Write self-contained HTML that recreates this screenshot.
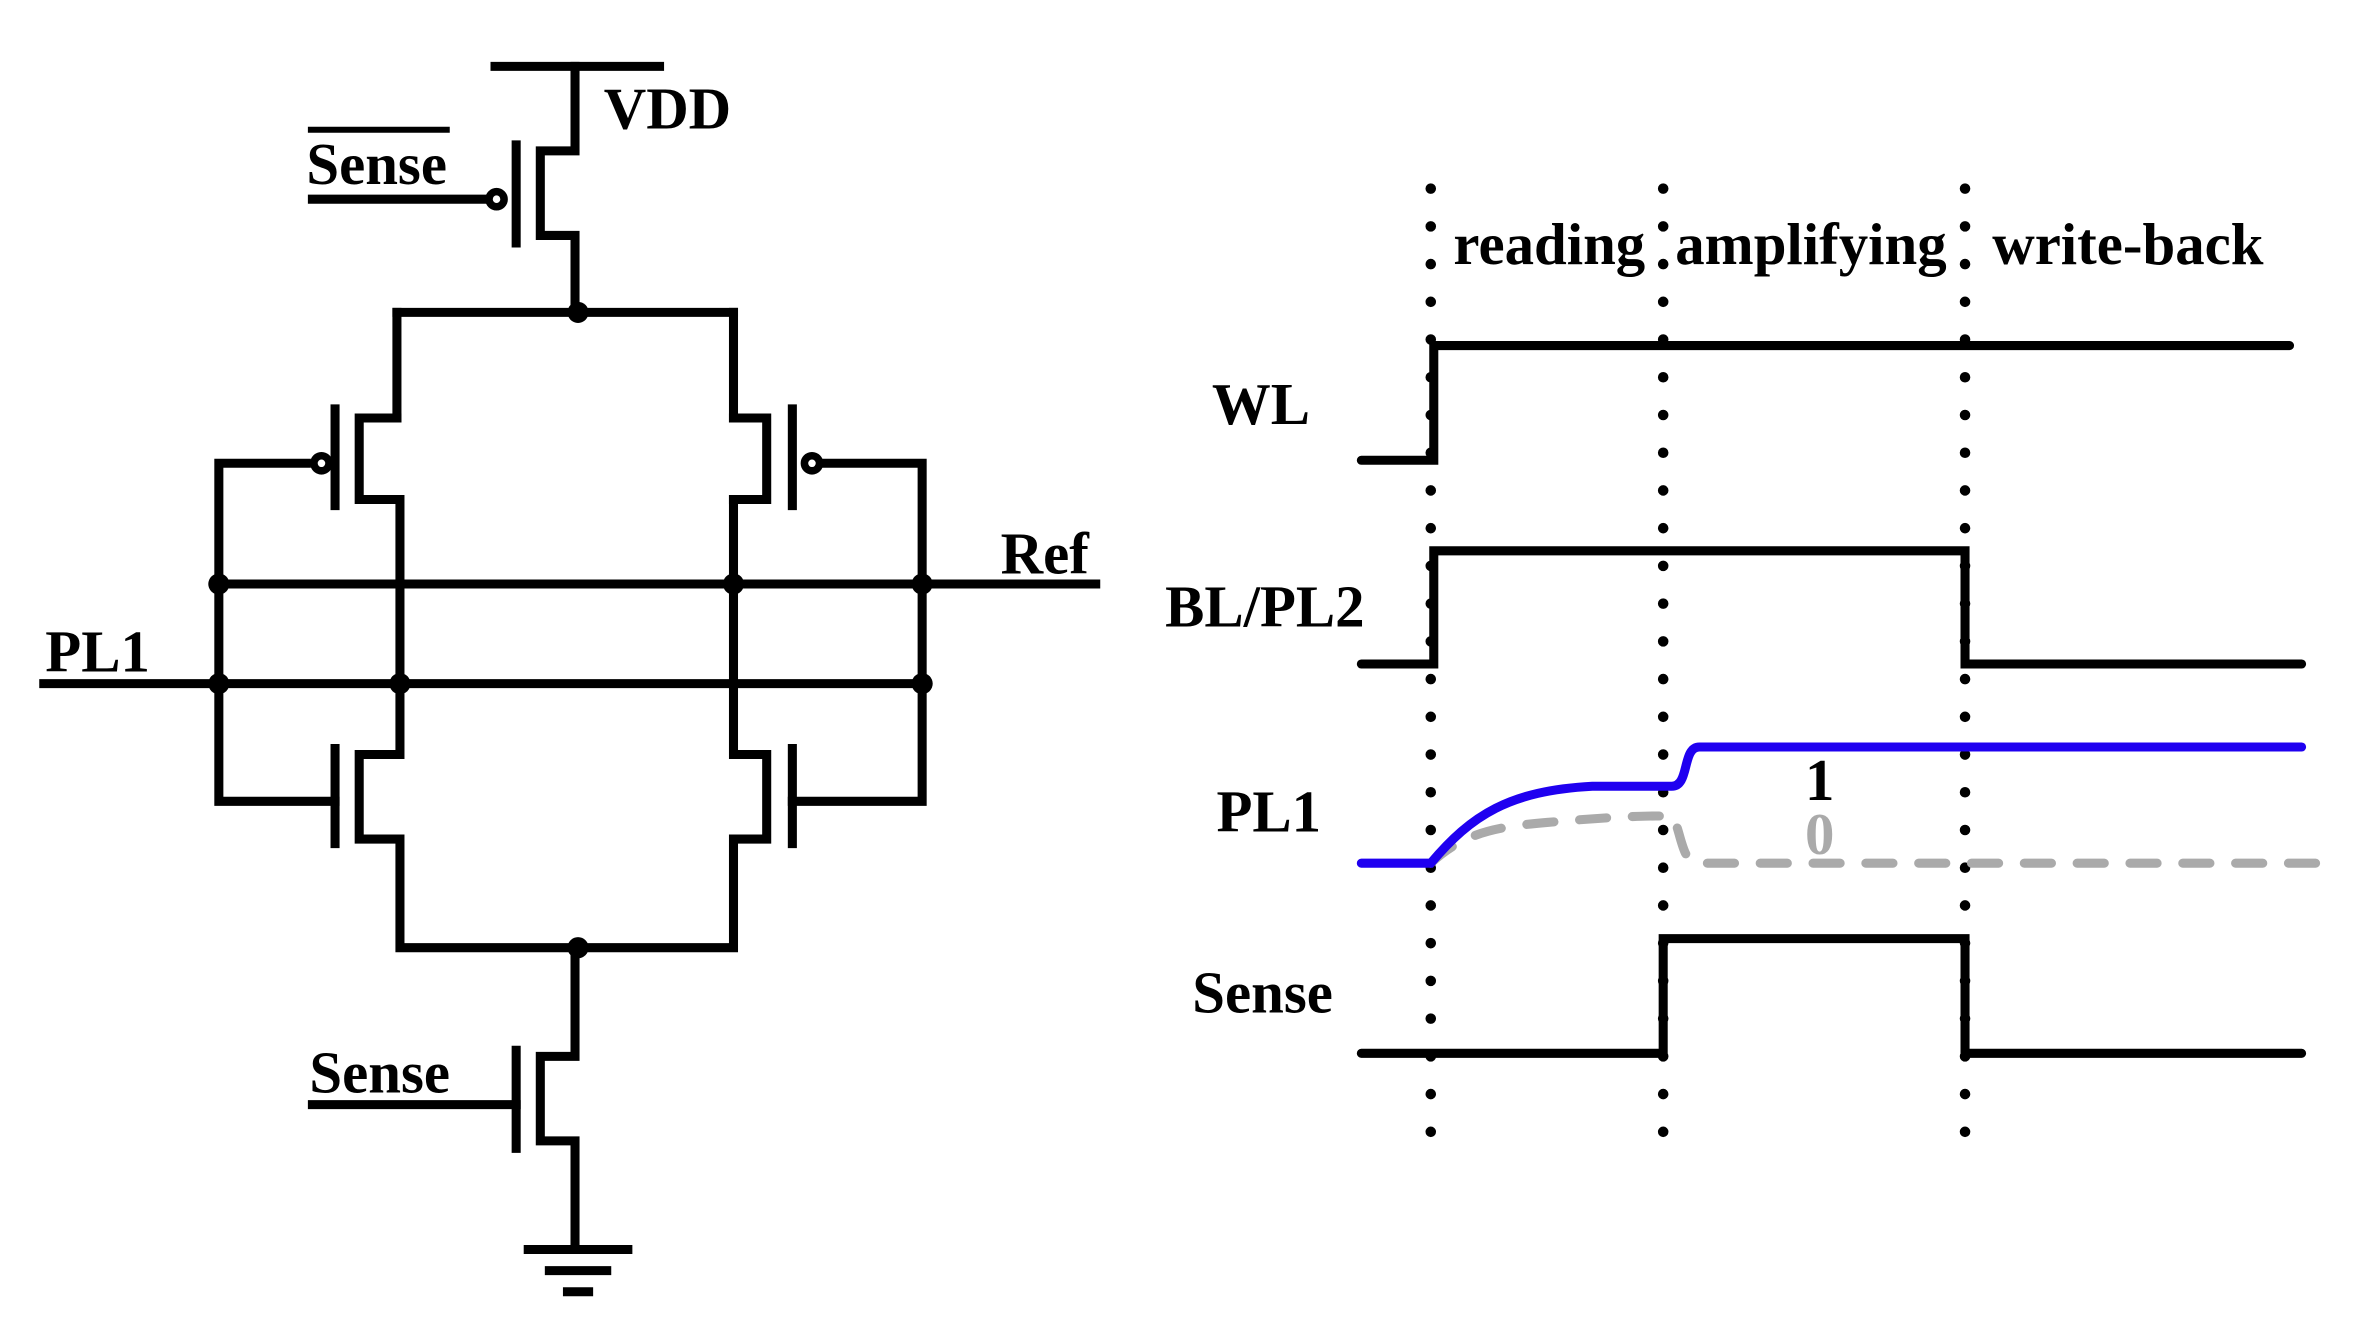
<!DOCTYPE html>
<html><head><meta charset="utf-8"><style>
html,body{margin:0;padding:0;background:#fff;}
svg{display:block;}
text{font-family:"Liberation Serif",serif;font-weight:bold;font-size:39px;fill:#000;}
</style></head><body>
<svg width="2368" height="1331" viewBox="0 0 1569 882" preserveAspectRatio="none" xmlns="http://www.w3.org/2000/svg">
<g fill="none" stroke="#000" stroke-width="6" stroke-linecap="square">
<line x1="328" y1="44" x2="437" y2="44"/>
<polyline points="381,44 381,100 358,100 358,156 381,156 381,207"/>
<line x1="342" y1="96" x2="342" y2="161"/>
<line x1="207" y1="132" x2="322" y2="132"/>
<line x1="206" y1="86" x2="296" y2="86" stroke-width="4"/>
<polyline points="486,277 508,277 508,331 486,331"/>
<line x1="263" y1="207" x2="486" y2="207"/>
<line x1="263" y1="207" x2="263" y2="277"/>
<line x1="486" y1="207" x2="486" y2="277"/>
<polyline points="263,277 238,277 238,331 265,331 265,500 238,500 238,556 265,556 265,628 486,628 486,556 508,556 508,500 486,500 486,331"/>
<line x1="222" y1="271" x2="222" y2="335"/>
<line x1="222" y1="496" x2="222" y2="559"/>
<line x1="525" y1="271" x2="525" y2="335"/>
<line x1="525" y1="496" x2="525" y2="559"/>
<polyline points="203,307 145,307 145,531 222,531"/>
<polyline points="546,307 611,307 611,531 525,531"/>
<line x1="145" y1="387" x2="726" y2="387"/>
<line x1="29" y1="453" x2="611" y2="453"/>
<polyline points="381,628 381,700 358,700 358,756 381,756 381,828"/>
<line x1="342" y1="696" x2="342" y2="761"/>
<line x1="207" y1="732" x2="342" y2="732"/>
<line x1="350" y1="828" x2="416" y2="828"/>
<line x1="364" y1="842" x2="402" y2="842"/>
<line x1="376" y1="856" x2="390" y2="856"/>
</g>
<g fill="none" stroke="#000" stroke-width="5">
<circle cx="329" cy="132" r="5"/>
<circle cx="213" cy="307" r="5"/>
<circle cx="538" cy="307" r="5"/>
</g>
<g fill="#000">
<circle cx="383" cy="207" r="7"/><circle cx="383" cy="628" r="7"/>
<circle cx="145" cy="387" r="7"/><circle cx="486" cy="387" r="7"/><circle cx="611" cy="387" r="7"/>
<circle cx="145" cy="453" r="7"/><circle cx="265" cy="453" r="7"/><circle cx="611" cy="453" r="7"/>
</g>
<text x="400" y="85">VDD</text>
<text x="203" y="122">Sense</text>
<text x="205" y="724">Sense</text>
<text x="30" y="445">PL1</text>
<text x="663" y="380">Ref</text>
<g stroke="#000" stroke-width="7" stroke-linecap="round" stroke-dasharray="0 25">
<line x1="948" y1="125" x2="948" y2="752"/>
<line x1="1102" y1="125" x2="1102" y2="752"/>
<line x1="1302" y1="125" x2="1302" y2="752"/>
</g>
<text x="963" y="175">reading</text>
<text x="1110" y="175">amplifying</text>
<text x="1320" y="175">write-back</text>
<text x="803" y="281">WL</text>
<text x="772" y="415">BL/PL2</text>
<text x="806" y="551">PL1</text>
<text x="790" y="671">Sense</text>
<g fill="none" stroke="#000" stroke-width="6" stroke-linecap="round">
<polyline points="902,305 950,305 950,229 1517,229"/>
<polyline points="902,440 950,440 950,365 1302,365 1302,440 1525,440"/>
<polyline points="902,698 1102,698 1102,622 1302,622 1302,698 1525,698"/>
</g>
<path d="M948,572 C970,552 990,548 1025,545 C1060,542 1090,540 1108,541 C1114,550 1114,572 1125,572 L1535,572" fill="none" stroke="#aaa" stroke-width="6" stroke-linecap="round" stroke-dasharray="18 17"/>
<path d="M902,572 L948,572 C975,540 1000,524 1055,521 L1107,521 C1120,522 1114,495 1126,495 L1525,495" fill="none" stroke="#1f00f0" stroke-width="6" stroke-linecap="round"/>
<text x="1196" y="530">1</text>
<text x="1196" y="566" style="fill:#aaa">0</text>
</svg>
</body></html>
